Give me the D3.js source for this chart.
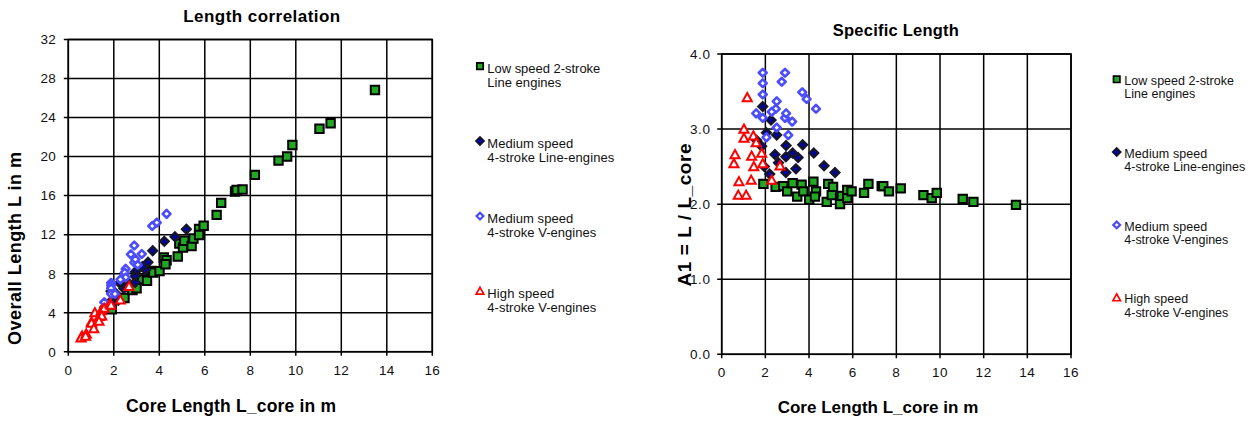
<!DOCTYPE html>
<html><head><meta charset="utf-8">
<script src="https://cdn.jsdelivr.net/npm/d3@7/dist/d3.min.js"></script>
<style>
html,body{margin:0;padding:0;background:#fff;}
svg{display:block;font-family:"Liberation Sans",Arial,Helvetica,sans-serif;}
</style></head><body>
<svg id="c" width="1256" height="421">
  <defs><filter id="soft" x="-50%" y="-50%" width="200%" height="200%"><feGaussianBlur stdDeviation="0.45"/></filter></defs>
</svg>
<script>
// ---------- data ----------
const coreTicks = [0, 2, 4, 6, 8, 10, 12, 14, 16];
const lengthTicks = [0, 4, 8, 12, 16, 20, 24, 28, 32];
const a1Ticks = [0, 1, 2, 3, 4];

const seriesNames = [
  ["Low speed 2-stroke", "Line engines"],
  ["Medium speed", "4-stroke Line-engines"],
  ["Medium speed", "4-stroke V-engines"],
  ["High speed", "4-stroke V-engines"]
];

// [core length, overall length] (left chart)
const lowSpeedLength = [[1.91,4.34],[2.47,5.51],[2.82,6.32],[3.00,6.51],[3.25,7.41],[3.46,7.27],[3.66,8.27],[3.74,8.12],[4.01,8.26],[4.20,9.66],[4.32,9.37],[4.27,8.97],[4.81,9.76],[4.88,11.08],[5.04,10.68],[5.10,11.37],[5.42,10.84],[5.50,11.61],[5.75,12.59],[5.75,11.96],[5.95,12.91],[6.52,14.02],[6.72,15.25],[7.33,16.42],[7.40,16.58],[7.66,16.62],[8.20,18.12],[9.24,19.59],[9.62,20.01],[9.85,21.18],[11.04,22.85],[11.53,23.41],[13.48,26.83]];
const medLineLength = [[1.88,6.20],[2.26,7.05],[2.52,7.36],[2.95,8.20],[3.71,10.35],[4.22,11.31],[4.69,11.77],[5.19,12.56],[2.44,6.49],[2.94,7.73],[3.40,8.40],[2.94,7.11],[3.25,8.71],[1.83,5.07],[2.05,6.05],[2.60,6.63],[1.95,4.88],[2.20,5.28],[3.50,9.17],[1.60,4.56]];
const medVLength = [[1.88,7.05],[2.90,10.88],[1.88,6.79],[2.75,9.98],[1.88,6.50],[3.69,12.88],[3.89,13.23],[4.32,14.13],[2.52,8.49],[1.58,5.07],[2.48,8.11],[1.88,5.92],[2.90,9.14],[3.23,10.01],[2.52,7.61],[3.05,8.91],[2.05,5.92],[2.29,7.40],[2.95,9.47]];
const highVLength = [[1.17,4.00],[1.02,3.06],[1.02,2.94],[1.45,4.22],[1.58,4.46],[0.61,1.62],[0.56,1.42],[1.37,3.62],[1.83,4.90],[1.47,3.68],[1.88,4.78],[2.67,6.70],[0.79,1.82],[1.35,3.13],[2.29,5.31],[0.76,1.61],[1.12,2.37]];

// [core length, A1] (right chart)
const lowSpeedA1 = [[1.91,2.27],[2.47,2.23],[2.82,2.24],[3.00,2.17],[3.25,2.28],[3.46,2.10],[3.66,2.26],[3.74,2.17],[4.01,2.06],[4.20,2.30],[4.32,2.17],[4.27,2.10],[4.81,2.03],[4.88,2.27],[5.04,2.12],[5.10,2.23],[5.42,2.00],[5.50,2.11],[5.75,2.19],[5.75,2.08],[5.95,2.17],[6.52,2.15],[6.72,2.27],[7.33,2.24],[7.40,2.24],[7.66,2.17],[8.20,2.21],[9.24,2.12],[9.62,2.08],[9.85,2.15],[11.04,2.07],[11.53,2.03],[13.48,1.99]];
const medLineA1 = [[1.88,3.30],[2.26,3.12],[2.52,2.92],[2.95,2.78],[3.71,2.79],[4.22,2.68],[4.69,2.51],[5.19,2.42],[2.44,2.66],[2.94,2.63],[3.40,2.47],[2.94,2.42],[3.25,2.68],[1.83,2.77],[2.05,2.95],[2.60,2.55],[1.95,2.50],[2.20,2.40],[3.50,2.62],[1.60,2.85]];
const medVA1 = [[1.88,3.75],[2.90,3.75],[1.88,3.61],[2.75,3.63],[1.88,3.46],[3.69,3.49],[3.89,3.40],[4.32,3.27],[2.52,3.37],[1.58,3.21],[2.48,3.27],[1.88,3.15],[2.90,3.15],[3.23,3.10],[2.52,3.02],[3.05,2.92],[2.05,2.89],[2.29,3.23],[2.95,3.21]];
const highVA1 = [[1.17,3.42],[1.02,3.00],[1.02,2.88],[1.45,2.91],[1.58,2.82],[0.61,2.66],[0.56,2.54],[1.37,2.64],[1.83,2.68],[1.47,2.50],[1.88,2.54],[2.67,2.51],[0.79,2.30],[1.35,2.32],[2.29,2.32],[0.76,2.12],[1.12,2.12]];

// ---------- marker styles ----------
const shapes = {
  square: r => `M${-r},${-r}H${r}V${r}H${-r}Z`,
  diamond: r => `M0,${-r}L${r},0L0,${r}L${-r},0Z`,
  triangle: r => `M0,${-r*1.05}L${r*1.05},${r*0.85}L${-r*1.05},${r*0.85}Z`
};
const styles = [
  {shape:"square",  r:4.2, lr:3.2, fill:"#22a822", stroke:"#000",    sw:2,   soft:false},
  {shape:"diamond", r:4.3, lr:3.8, fill:"#0000b4", stroke:"#14142a", sw:2.4, soft:true},
  {shape:"diamond", r:3.9, lr:3.4, fill:"#fff",    stroke:"#4c4cff", sw:2.6, soft:false},
  {shape:"triangle",r:4.3, lr:3.6, fill:"#fff",    stroke:"#ff0000", sw:2,   soft:false}
];

const svg = d3.select("#c");

function drawChart(cfg) {
  const x = d3.scaleLinear().domain([0, 16]).range([cfg.x0, cfg.x1]);
  const y = d3.scaleLinear().domain(cfg.yDomain).range([cfg.y1, cfg.y0]);
  const g = svg.append("g");

  // gridlines and tick marks
  g.append("g").selectAll("line").data(cfg.xTicks).join("line")
    .attr("x1", d => x(d)).attr("x2", d => x(d)).attr("y1", cfg.y0).attr("y2", cfg.y1 + 4)
    .attr("stroke", "#000").attr("stroke-width", 1.5);
  g.append("g").selectAll("line").data(cfg.yTicks).join("line")
    .attr("x1", cfg.x0 - 4.5).attr("x2", cfg.x1).attr("y1", d => y(d)).attr("y2", d => y(d))
    .attr("stroke", "#000").attr("stroke-width", 1.5);
  g.append("rect").attr("x", cfg.x0).attr("y", cfg.y0)
    .attr("width", cfg.x1 - cfg.x0).attr("height", cfg.y1 - cfg.y0)
    .attr("fill", "none").attr("stroke", "#000").attr("stroke-width", 1.6);

  // tick labels
  g.append("g").selectAll("text").data(cfg.xTicks).join("text")
    .attr("x", d => x(d)).attr("y", cfg.xTickBase).attr("text-anchor", "middle")
    .attr("font-size", cfg.tickFont).attr("letter-spacing", cfg.tickLS).attr("fill", "#111")
    .text(d => d);
  g.append("g").selectAll("text").data(cfg.yTicks).join("text")
    .attr("x", cfg.yTickEnd).attr("y", d => y(d)).attr("dy", "0.36em").attr("text-anchor", "end")
    .attr("font-size", cfg.tickFont).attr("letter-spacing", cfg.tickLS).attr("fill", "#111")
    .text(cfg.yFmt);

  // titles
  g.append("text").attr("x", cfg.titleX).attr("y", cfg.titleY).attr("text-anchor", "middle")
    .attr("font-size", cfg.titleSize).attr("font-weight", "bold")
    .attr("textLength", cfg.titleLen).attr("lengthAdjust", "spacing").text(cfg.title);
  g.append("text").attr("x", cfg.xTitleX).attr("y", cfg.xTitleY).attr("text-anchor", "middle")
    .attr("font-size", cfg.xTitleSize).attr("font-weight", "bold")
    .attr("textLength", cfg.xTitleLen).attr("lengthAdjust", "spacing").text(cfg.xTitle);
  g.append("text").attr("transform", `translate(${cfg.yTitleX},${cfg.yTitleY}) rotate(-90)`)
    .attr("text-anchor", "middle")
    .attr("font-size", cfg.yTitleSize).attr("font-weight", "bold")
    .attr("textLength", cfg.yTitleLen).attr("lengthAdjust", "spacing").text(cfg.yTitle);

  // points
  cfg.series.forEach((data, i) => {
    const st = styles[i];
    g.append("g").attr("filter", st.soft ? "url(#soft)" : null)
      .selectAll("path").data(data).join("path")
      .attr("d", shapes[st.shape](st.r))
      .attr("transform", d => `translate(${x(d[0])},${y(d[1])})`)
      .attr("fill", st.fill).attr("stroke", st.stroke).attr("stroke-width", st.sw)
      .attr("stroke-linejoin", i === 2 ? "round" : "miter");
  });

  // legend
  const lg = cfg.legend;
  seriesNames.forEach((lines, i) => {
    const st = styles[i];
    const b = lg.b0 + i * lg.step;
    g.append("path").attr("d", shapes[st.shape](st.lr))
      .attr("transform", `translate(${lg.mx},${b - lg.mOff})`)
      .attr("fill", st.fill).attr("stroke", st.stroke).attr("stroke-width", st.sw * 0.85);
    const t = g.append("text").attr("font-size", lg.font).attr("fill", "#111");
    lines.forEach((ln, j) => {
      t.append("tspan").attr("x", lg.tx).attr("y", b + j * lg.lineH)
        .attr("textLength", lg.lens[i][j]).attr("lengthAdjust", "spacing").text(ln);
    });
  });
}

drawChart({
  x0: 68.3, x1: 432.3, y0: 39.5, y1: 351.7,
  yDomain: [0, 32], yTicks: lengthTicks, xTicks: coreTicks, yFmt: d => d,
  tickFont: 13.5, tickLS: 0.3, xTickBase: 375, yTickEnd: 56,
  title: "Length correlation", titleX: 261.7, titleY: 22, titleSize: 17, titleLen: 157,
  xTitle: "Core Length L_core in m", xTitleX: 231, xTitleY: 412, xTitleSize: 17.5, xTitleLen: 210,
  yTitle: "Overall Length L in m", yTitleX: 20.5, yTitleY: 248.5, yTitleSize: 18, yTitleLen: 193,
  series: [lowSpeedLength, medLineLength, medVLength, highVLength],
  legend: {mx: 480, tx: 487.3, b0: 73.3, step: 75, font: 13, lineH: 13.4, mOff: 7.2,
           lens: [[113, 74], [86, 127], [86, 109], [67, 109]]}
});

drawChart({
  x0: 721.7, x1: 1071, y0: 54, y1: 354.3,
  yDomain: [0, 4], yTicks: a1Ticks, xTicks: coreTicks, yFmt: d3.format(".1f"),
  tickFont: 13.5, tickLS: 0.6, xTickBase: 376.5, yTickEnd: 710.5,
  title: "Specific Length", titleX: 895.8, titleY: 35.5, titleSize: 16.5, titleLen: 126,
  xTitle: "Core Length L_core in m", xTitleX: 878, xTitleY: 413, xTitleSize: 17, xTitleLen: 200.7,
  yTitle: "A1 = L / L_core", yTitleX: 691, yTitleY: 215, yTitleSize: 19, yTitleLen: 143,
  series: [lowSpeedA1, medLineA1, medVA1, highVA1],
  legend: {mx: 1116.7, tx: 1124.3, b0: 85, step: 72.8, font: 12.5, lineH: 13.3, mOff: 5.7,
           lens: [[109.7, 71], [83, 121], [83, 104], [64, 104]]}
});
</script>
</body></html>
